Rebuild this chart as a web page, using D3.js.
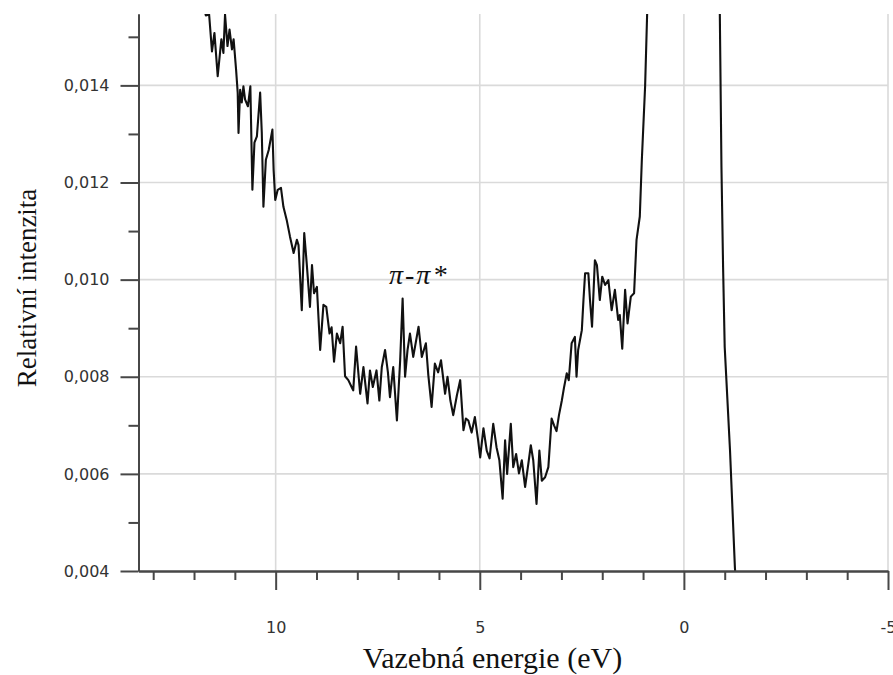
<!DOCTYPE html>
<html>
<head>
<meta charset="utf-8">
<script src="https://cdn.jsdelivr.net/npm/d3@7"></script>
<style>
  html, body { margin: 0; padding: 0; background: #fff; }
  svg { display: block; }
</style>
</head>
<body>
<svg id="chart" width="893" height="675"></svg>
<script>
// Binding energy (eV) of each sample of the loss spectrum
const energy = [
  11.78, 11.71, 11.63, 11.56, 11.50, 11.42, 11.33, 11.28, 11.24, 11.18,
  11.13, 11.07, 11.03, 10.97, 10.93, 10.91, 10.87, 10.83, 10.79, 10.75,
  10.68, 10.62, 10.57, 10.52, 10.46, 10.38, 10.34, 10.30, 10.24, 10.17,
  10.08, 10.05, 10.01, 9.95, 9.87, 9.81, 9.73, 9.65, 9.56, 9.48,
  9.44, 9.36, 9.30, 9.24, 9.16, 9.11, 9.06, 8.99, 8.91, 8.83,
  8.76, 8.68, 8.63, 8.57, 8.50, 8.42, 8.36, 8.30, 8.22, 8.14,
  8.10, 8.03, 7.93, 7.85, 7.75, 7.69, 7.62, 7.53, 7.46, 7.40,
  7.32, 7.25, 7.20, 7.12, 7.03, 6.95, 6.89, 6.83, 6.77, 6.71,
  6.63, 6.50, 6.42, 6.32, 6.26, 6.18, 6.10, 6.02, 5.95, 5.85,
  5.79, 5.72, 5.65, 5.56, 5.48, 5.40, 5.34, 5.28, 5.20, 5.12,
  5.04, 4.99, 4.91, 4.83, 4.76, 4.67, 4.59, 4.52, 4.44, 4.38,
  4.33, 4.24, 4.18, 4.11, 4.04, 3.97, 3.89, 3.81, 3.75, 3.69,
  3.61, 3.54, 3.48, 3.40, 3.32, 3.24, 3.18, 3.12, 3.06, 2.99,
  2.94, 2.87, 2.82, 2.75, 2.67, 2.63, 2.59, 2.50, 2.46, 2.42,
  2.34, 2.30, 2.25, 2.18, 2.13, 2.06, 2.00, 1.93, 1.85, 1.77,
  1.69, 1.61, 1.57, 1.51, 1.44, 1.38, 1.30, 1.22, 1.16, 1.08,
  1.03, 0.95, 0.90, 0.87,
  0.00,
  -0.87, -0.88, -0.92, -0.96, -1.00, -1.13, -1.25, -1.30
];

// Relative intensity of each sample (the elastic peak near 0 eV runs off scale)
const intensity = [
  0.01567, 0.01544, 0.01546, 0.01470, 0.01508, 0.01419, 0.01495, 0.01467, 0.01546, 0.01481,
  0.01515, 0.01474, 0.01495, 0.01433, 0.01385, 0.01302, 0.01391, 0.01365, 0.01398, 0.01371,
  0.01357, 0.01398, 0.01185, 0.01282, 0.01295, 0.01385, 0.01303, 0.01150, 0.01247, 0.01267,
  0.01309, 0.01226, 0.01164, 0.01185, 0.01189, 0.01150, 0.01123, 0.01089, 0.01055, 0.01082,
  0.01071, 0.00937, 0.01096, 0.01034, 0.00944, 0.01030, 0.00972, 0.00985, 0.00855, 0.00948,
  0.00944, 0.00889, 0.00902, 0.00831, 0.00889, 0.00869, 0.00903, 0.00801, 0.00793, 0.00779,
  0.00772, 0.00862, 0.00765, 0.00820, 0.00745, 0.00813, 0.00779, 0.00813, 0.00751, 0.00820,
  0.00855, 0.00809, 0.00758, 0.00820, 0.00710, 0.00834, 0.00961, 0.00800, 0.00855, 0.00889,
  0.00841, 0.00903, 0.00841, 0.00869, 0.00803, 0.00738, 0.00827, 0.00809, 0.00834, 0.00765,
  0.00800, 0.00751, 0.00721, 0.00762, 0.00793, 0.00690, 0.00714, 0.00710, 0.00685, 0.00717,
  0.00669, 0.00634, 0.00694, 0.00648, 0.00632, 0.00703, 0.00655, 0.00628, 0.00549, 0.00669,
  0.00600, 0.00703, 0.00614, 0.00641, 0.00601, 0.00628, 0.00573, 0.00621, 0.00659, 0.00628,
  0.00538, 0.00648, 0.00586, 0.00593, 0.00614, 0.00714, 0.00700, 0.00688, 0.00721, 0.00751,
  0.00776, 0.00807, 0.00793, 0.00869, 0.00882, 0.00800, 0.00855, 0.00896, 0.00958, 0.01013,
  0.01013, 0.00958, 0.00903, 0.01040, 0.01030, 0.00958, 0.01006, 0.00989, 0.00999, 0.00937,
  0.00979, 0.00917, 0.00927, 0.00858, 0.00979, 0.00910, 0.00965, 0.00972, 0.01082, 0.01130,
  0.01247, 0.01398, 0.01548, 0.01618,
  0.05000,
  0.01618, 0.01548, 0.01233, 0.01027, 0.00861, 0.00648, 0.00407, 0.00339
];

// Axis ticks
const xMajorTicks = [10, 5, 0, -5];
const xMinorTicks = [13, 12, 11, 9, 8, 7, 6, 4, 3, 2, 1, -1, -2, -3, -4];
const yMajorTicks = [0.004, 0.006, 0.008, 0.010, 0.012, 0.014];
const yMinorTicks = [0.005, 0.007, 0.009, 0.011, 0.013, 0.015];
const gridY = [0.006, 0.008, 0.010, 0.012, 0.014];

const peakLabel = "π-π*";
const xTitle = "Vazebná energie (eV)";
const yTitle = "Relativní intenzita";

const plot = { left: 138.5, right: 888, top: 14, bottom: 571 };

const svg = d3.select("#chart");

const x = d3.scaleLinear().domain([13.36, -5]).range([plot.left, plot.right]);
const y = d3.scaleLinear().domain([0.004, 0.01547]).range([plot.bottom, plot.top]);

const axisColor = "#474747";
const gridColor = "#dadada";
const tickFont = "'DejaVu Sans', Verdana, sans-serif";
const titleFont = "'Liberation Serif', 'Times New Roman', serif";

// Grid
const grid = svg.append("g");
grid.selectAll("line.gx")
  .data(xMajorTicks)
  .join("line")
  .attr("class", "gx")
  .attr("x1", d => x(d)).attr("x2", d => x(d))
  .attr("y1", plot.top).attr("y2", plot.bottom)
  .attr("stroke", gridColor).attr("stroke-width", 1.6);
grid.selectAll("line.gy")
  .data(gridY)
  .join("line")
  .attr("class", "gy")
  .attr("x1", plot.left).attr("x2", plot.right)
  .attr("y1", d => y(d)).attr("y2", d => y(d))
  .attr("stroke", gridColor).attr("stroke-width", 1.6);

// Spectrum curve, clipped to the plotting area
svg.append("clipPath").attr("id", "plot-clip")
  .append("rect")
  .attr("x", plot.left).attr("y", plot.top)
  .attr("width", plot.right - plot.left).attr("height", plot.bottom - plot.top);

const line = d3.line()
  .x((d, i) => x(energy[i]))
  .y((d, i) => y(intensity[i]));

svg.append("path")
  .datum(energy)
  .attr("clip-path", "url(#plot-clip)")
  .attr("d", line)
  .attr("fill", "none")
  .attr("stroke", "#111")
  .attr("stroke-width", 2.1)
  .attr("stroke-linejoin", "round");

// Axes
function styleAxis(g) {
  g.select(".domain").attr("stroke", axisColor).attr("stroke-width", 2);
  g.selectAll(".tick line").attr("stroke", axisColor).attr("stroke-width", 2);
  g.selectAll(".tick text")
    .attr("fill", "#333")
    .style("font-family", tickFont)
    .style("font-size", "16px");
}

const yAxisMinor = d3.axisLeft(y).tickValues(yMinorTicks).tickSize(10).tickSizeOuter(0).tickFormat("");
const yAxis = d3.axisLeft(y).tickValues(yMajorTicks).tickSize(18).tickSizeOuter(0).tickPadding(11)
  .tickFormat(d => d3.format(".3f")(d).replace(".", ","));

svg.append("g").attr("transform", `translate(${plot.left},0)`).call(yAxisMinor).call(styleAxis);
svg.append("g").attr("transform", `translate(${plot.left},0)`).call(yAxis).call(styleAxis);

const xAxisMinor = d3.axisBottom(x).tickValues(xMinorTicks).tickSize(9).tickSizeOuter(0).tickFormat("");
const xAxis = d3.axisBottom(x).tickValues(xMajorTicks).tickSize(19).tickSizeOuter(0).tickPadding(32)
  .tickFormat(d => String(d));

svg.append("g").attr("transform", `translate(0,${plot.bottom})`).call(xAxisMinor).call(styleAxis);
svg.append("g").attr("transform", `translate(0,${plot.bottom})`).call(xAxis).call(styleAxis);

// Peak annotation
svg.append("text")
  .attr("x", 389).attr("y", 284)
  .attr("fill", "#111")
  .style("font-family", titleFont)
  .style("font-style", "italic")
  .style("font-size", "28px")
  .style("letter-spacing", "2px")
  .text(peakLabel);

// Axis titles
svg.append("text")
  .attr("x", 492.5).attr("y", 668)
  .attr("text-anchor", "middle")
  .attr("fill", "#111")
  .style("font-family", titleFont)
  .style("font-size", "30px")
  .text(xTitle);

svg.append("text")
  .attr("transform", "translate(35.5,288) rotate(-90)")
  .attr("text-anchor", "middle")
  .attr("fill", "#111")
  .style("font-family", titleFont)
  .style("font-size", "27px")
  .text(yTitle);
</script>
</body>
</html>
